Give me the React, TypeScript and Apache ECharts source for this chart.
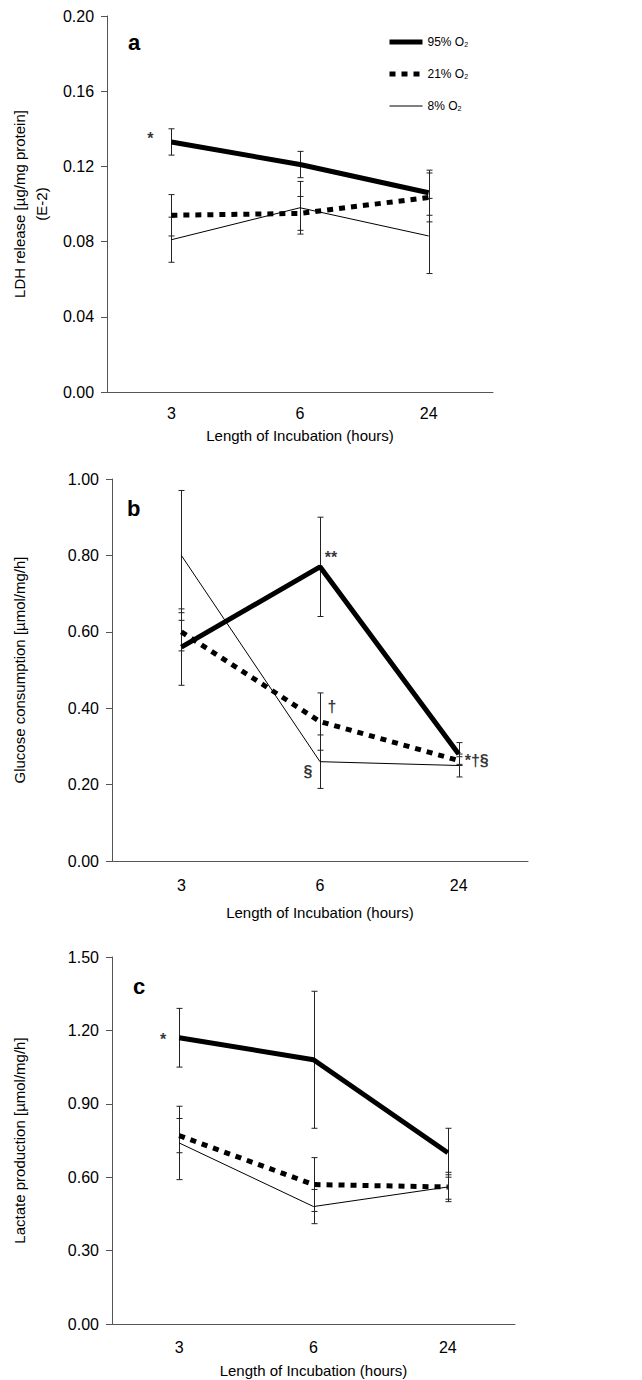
import React, { useEffect, useRef } from "react";
import * as echarts from "echarts";

const hours = ["3", "6", "24"];
const names = ["95% O2", "21% O2", "8% O2"];

// Panel a: LDH release
const ldh95 = [0.133, 0.121, 0.106];
const ldh95Err = [0.007, 0.007, 0.012];
const ldh21 = [0.094, 0.095, 0.1035];
const ldh21Err = [0.011, 0.009, 0.013];
const ldh8 = [0.081, 0.098, 0.083];
const ldh8Err = [0.012, 0.014, 0.02];

// Panel b: glucose consumption
const glu95 = [0.56, 0.77, 0.28];
const glu95Err = [0.1, 0.13, 0.03];
const glu21 = [0.6, 0.365, 0.263];
const glu21Err = [0.05, 0.075, 0.01];
const glu8 = [0.8, 0.26, 0.25];
const glu8Err = [0.17, 0.07, 0.03];

// Panel c: lactate production
const lac95 = [1.17, 1.08, 0.7];
const lac95Err = [0.12, 0.28, 0.1];
const lac21 = [0.77, 0.57, 0.56];
const lac21Err = [0.07, 0.11, 0.05];
const lac8 = [0.74, 0.48, 0.56];
const lac8Err = [0.15, 0.07, 0.06];

// y axis ranges
const yMax = [0.2, 1.0, 1.5];
const yStep = [0.04, 0.2, 0.3];
const yNames = [
  "LDH release [\u00b5g/mg protein]\n(E-2)",
  "Glucose consumption [\u00b5mol/mg/h]",
  "Lactate production [\u00b5mol/mg/h]",
];
const xName = "Length of Incubation (hours)";
const panelLetters = ["a", "b", "c"];

// significance marks: panel, series index, category index, text
const marks = [
  { panel: 0, s: 0, cat: 0, text: "*" },
  { panel: 1, s: 0, cat: 1, text: "**" },
  { panel: 1, s: 1, cat: 1, text: "\u2020" },
  { panel: 1, s: 2, cat: 1, text: "\u00a7" },
  { panel: 1, s: 1, cat: 2, text: "*\u2020\u00a7" },
  { panel: 2, s: 0, cat: 0, text: "*" },
];
const markOffsets = [
  [-21, -3],
  [11, -9],
  [12, -15],
  [-12, 10],
  [18, 0],
  [-16, 2],
];

const panelValues = [
  [ldh95, ldh21, ldh8],
  [glu95, glu21, glu8],
  [lac95, lac21, lac8],
];
const panelErrors = [
  [ldh95Err, ldh21Err, ldh8Err],
  [glu95Err, glu21Err, glu8Err],
  [lac95Err, lac21Err, lac8Err],
];

const FONT = "Liberation Sans, Arial, sans-serif";

const grids = [
  { left: 101, top: 16, width: 392, height: 376 },
  { left: 104, top: 479, width: 424, height: 382 },
  { left: 105, top: 957, width: 410, height: 367 },
];
const xLabelMargin = [13, 16, 15];
const xNameGap = [36, 44, 39];
const yNameGap = [53, 82, 82];
const titlePos = [
  { left: 123, top: 26 },
  { left: 122, top: 492 },
  { left: 128, top: 970 },
];

const lineStyles = [
  { width: 5, type: "solid" as any },
  { width: 5, type: [6, 6] as any },
  { width: 1, type: "solid" as any },
];

function errorSeries(p: number, vals: number[], errs: number[]) {
  return {
    type: "custom",
    xAxisIndex: p,
    yAxisIndex: p,
    silent: true,
    z: 3,
    data: vals.map((v, i) => [i, v - errs[i], v + errs[i]]),
    renderItem: (_params: any, api: any) => {
      const lo = api.coord([api.value(0), api.value(1)]);
      const hi = api.coord([api.value(0), api.value(2)]);
      const x = Math.round(lo[0]) + 0.5;
      const w = 3;
      const style = { stroke: "#222", lineWidth: 1 };
      return {
        type: "group",
        children: [
          { type: "line", shape: { x1: x, y1: hi[1], x2: x, y2: lo[1] }, style },
          { type: "line", shape: { x1: x - w, y1: hi[1], x2: x + w, y2: hi[1] }, style },
          { type: "line", shape: { x1: x - w, y1: lo[1], x2: x + w, y2: lo[1] }, style },
        ],
      };
    },
  };
}

export default function App() {
  const ref = useRef<HTMLDivElement>(null);
  useEffect(() => {
    if (!ref.current) return;
    const chart = echarts.init(ref.current, undefined, { renderer: "svg" });
    const series: any[] = [];
    for (let p = 0; p < 3; p++) {
      for (let s = 0; s < 3; s++) {
        series.push(errorSeries(p, panelValues[p][s], panelErrors[p][s]));
        series.push({
          type: "line",
          name: names[s],
          xAxisIndex: p,
          yAxisIndex: p,
          symbol: "none",
          z: 2 + (3 - s),
          lineStyle: { color: "#000", width: lineStyles[s].width, type: lineStyles[s].type, cap: "butt" },
          itemStyle: { color: "#000" },
          data: panelValues[p][s],
        });
      }
    }
    marks.forEach((m, i) => {
      series.push({
        type: "scatter",
        xAxisIndex: m.panel,
        yAxisIndex: m.panel,
        symbolSize: 1,
        itemStyle: { color: "rgba(0,0,0,0)" },
        silent: true,
        z: 10,
        data: [[m.cat, panelValues[m.panel][m.s][m.cat]]],
        label: {
          show: true,
          position: "inside",
          formatter: m.text,
          offset: markOffsets[i],
          color: "#000",
          fontSize: 16,
          fontWeight: "bold",
          fontFamily: FONT,
        },
      });
    });

    const option: any = {
      animation: false,
      backgroundColor: "#fff",
      title: panelLetters.map((t, i) => ({
        text: t,
        left: titlePos[i].left,
        top: titlePos[i].top,
        textStyle: { fontSize: 22, fontWeight: "bold", color: "#000", fontFamily: FONT },
      })),
      legend: {
        data: names.map((n, s) => ({
          name: n,
          itemStyle: { color: "rgba(0,0,0,0)", borderWidth: 0, opacity: 0 },
          lineStyle: { color: "#000", width: lineStyles[s].width, type: lineStyles[s].type, cap: "butt", opacity: 1 },
        })),
        orient: "vertical",
        left: 382,
        top: 31,
        itemWidth: 33,
        itemHeight: 14,
        itemGap: 20,
        selectedMode: false,
        formatter: (n: string) => "{b|" + n.replace("O2", "O") + "}{s|2}",
        textStyle: {
          color: "#000",
          fontFamily: FONT,
          fontSize: 12,
          rich: {
            b: { fontSize: 12, fontFamily: FONT, color: "#000" },
            s: { fontSize: 7, fontFamily: FONT, color: "#000", verticalAlign: "bottom", padding: [5, 0, 0, 0] },
          },
        },
      },
      grid: grids,
      xAxis: grids.map((_, i) => ({
        type: "category",
        gridIndex: i,
        data: hours,
        boundaryGap: true,
        name: xName,
        nameLocation: "middle",
        nameGap: xNameGap[i],
        nameTextStyle: { fontSize: 15, color: "#000", fontFamily: FONT },
        axisLine: { lineStyle: { color: "#555", width: 1 } },
        axisTick: { show: false },
        axisLabel: { fontSize: 16, color: "#000", fontFamily: FONT, margin: xLabelMargin[i] },
        splitLine: { show: false },
      })),
      yAxis: grids.map((_, i) => ({
        type: "value",
        gridIndex: i,
        min: 0,
        max: yMax[i],
        interval: yStep[i],
        name: yNames[i],
        nameLocation: "middle",
        nameGap: yNameGap[i],
        nameTextStyle: { fontSize: 15, color: "#000", fontFamily: FONT, lineHeight: 22 },
        axisLine: { show: true, lineStyle: { color: "#555", width: 1 } },
        axisTick: { show: true, length: 6, lineStyle: { color: "#555" } },
        axisLabel: {
          fontSize: 16,
          color: "#000",
          fontFamily: FONT,
          margin: 13,
          formatter: (v: number) => v.toFixed(2),
        },
        splitLine: { show: false },
      })),
      series,
    };
    chart.setOption(option);
    return () => chart.dispose();
  }, []);
  return (
    <div
      ref={ref}
      style={{ position: "absolute", left: 0, top: 0, width: 642, height: 1380, background: "#fff" }}
    />
  );
}
